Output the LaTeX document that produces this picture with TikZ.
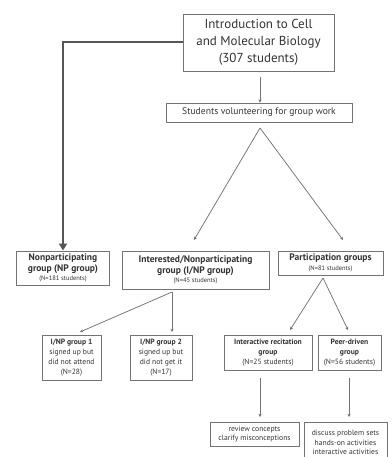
\documentclass[tikz,border=0pt]{standalone}
\usepackage{fontspec}
\setmainfont{PT Sans}
\usetikzlibrary{arrows.meta}
\definecolor{ln}{HTML}{737373}
\definecolor{tx}{HTML}{333333}
\begin{document}
\begin{tikzpicture}[x=1pt,y=-1pt,
  box/.style={draw=ln, line width=0.9pt, text=tx, align=center, inner sep=1pt, minimum width=#1},
  box/.default=20pt,
  conn/.style={draw=ln, line width=0.75pt, -{Stealth[length=3.2pt,width=3.2pt]}},
  big/.style={draw=ln!75!black, line width=1.7pt, -{Triangle[length=7pt,width=8pt]}},
  grp/.style={font=\bfseries\fontsize{9.5}{10.5}\selectfont},
  small/.style={font=\fontsize{7.6}{9.8}\selectfont}
]
\useasboundingbox (0,0) rectangle (391,457);
\fill[white] (0,0) rectangle (391,457);

\node[box=151pt, minimum height=57pt, font=\fontsize{13}{17}\selectfont] (top) at (258.5,42.5)
  {Introduction to Cell\\and Molecular Biology\\(307 students)};
\node[box=186pt, minimum height=19pt, font=\fontsize{9.6}{11}\selectfont] (vol) at (259,112.5)
  {Students volunteering for group work};

\node[box=93pt, minimum height=34pt, grp] (np) at (63,268)
  {Nonparticipating\\group (NP group)\\[-1pt]\mdseries\fontsize{6.5}{7.5}\selectfont (N=181 students)};
\node[box=147pt, minimum height=38pt, grp] (inp) at (195.5,270)
  {Interested/Nonparticipating\\group (I/NP group)\\[-1pt]\mdseries\fontsize{6.5}{7.5}\selectfont (N=45 students)};
\node[box=105pt, minimum height=24pt, grp] (part) at (330.5,263)
  {Participation groups\\[-1pt]\mdseries\fontsize{6.5}{7.5}\selectfont (N=81 students)};

\node[box=59pt, minimum height=45pt, small] (g1) at (71.5,357.5)
  {\textbf{I/NP group 1}\\signed up but\\did not attend\\(N=28)};
\node[box=62pt, minimum height=45pt, small] (g2) at (161,357.5)
  {\textbf{I/NP group 2}\\signed up but\\did not get it\\(N=17)};

\node[box=88pt, minimum height=35pt, small] (ir) at (268,352.5)
  {\textbf{Interactive recitation}\\\textbf{group}\\(N=25 students)};
\node[box=63pt, minimum height=35pt, small] (pd) at (349.5,352.5)
  {\textbf{Peer-driven}\\\textbf{group}\\(N=56 students)};

\node[box=89pt, minimum height=24pt, small] (rv) at (254.5,434)
  {review concepts\\clarify misconceptions};
\node[box=83pt, minimum height=40pt, anchor=north, small] (dc) at (345.5,422)
  {discuss problem sets\\hands-on activities\\interactive activities};

% connectors
\coordinate (tS) at (260,77);
\coordinate (apex) at (260,128);
\coordinate (inpTip) at (194,240);
\coordinate (partTip) at (343,240);
\coordinate (inpFork) at (172,292);
\coordinate (g1Tip) at (80,332);
\coordinate (g2Tip) at (172,332);
\coordinate (partFork) at (323,278);
\coordinate (irTip) at (290,330);
\coordinate (pdTip) at (348,330);
\coordinate (irS) at (260,378);
\coordinate (irE) at (260,417);
\coordinate (pdS) at (349,378);
\coordinate (pdE) at (349,417);
\coordinate (npBend) at (63,42);

\draw[conn] (tS) -- (tS |- vol.north);
\draw[big] (top.west |- npBend) -- (npBend) -- (np.north);
\draw[conn] (apex) -- (inpTip);
\draw[conn] (apex) -- (partTip);
\draw[conn] (inpFork) -- (g1Tip);
\draw[conn] (inpFork) -- (g2Tip);
\draw[conn] (partFork) -- (irTip);
\draw[conn] (partFork) -- (pdTip);
\draw[conn] (irS) -- (irE);
\draw[conn] (pdS) -- (pdE);
\end{tikzpicture}
\end{document}
